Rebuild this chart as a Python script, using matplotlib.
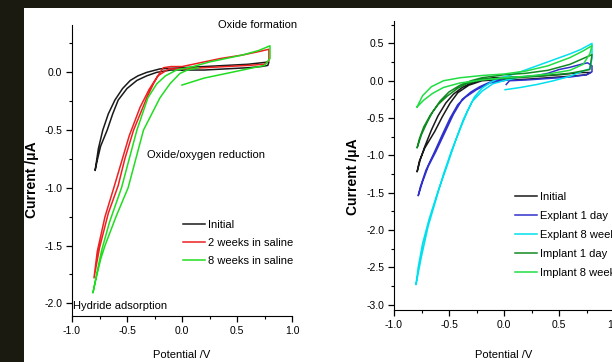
import matplotlib
matplotlib.use("Agg")
import matplotlib.pyplot as plt
from matplotlib.patches import Rectangle
from matplotlib.ticker import MultipleLocator

plt.rcParams['font.family'] = ['Liberation Sans Narrow', 'Liberation Sans', 'DejaVu Sans']
plt.rcParams['axes.unicode_minus'] = False

# ---- left panel: saline soak ----
E_init_l = [0.0, 0.2, 0.4, 0.6, 0.72, 0.78, 0.79, 0.6, 0.4, 0.2, 0.0, -0.2,
            -0.32, -0.40, -0.47, -0.54, -0.61, -0.67, -0.72, -0.76, -0.79,
            -0.77, -0.74, -0.68, -0.63, -0.58, -0.50, -0.41, -0.32, -0.23, -0.1, 0.0]
I_init_l = [0.02, 0.02, 0.03, 0.04, 0.05, 0.06, 0.09, 0.07, 0.06, 0.05, 0.04, 0.03,
            0.0, -0.03, -0.07, -0.14, -0.24, -0.36, -0.50, -0.66, -0.85,
            -0.76, -0.64, -0.50, -0.36, -0.24, -0.14, -0.07, -0.03, 0.0, 0.02, 0.02]

E_2wk = [0.0, 0.2, 0.4, 0.6, 0.75, 0.79, 0.79, 0.7, 0.55, 0.35, 0.15, 0.0, -0.1, -0.17,
         -0.20, -0.26, -0.32, -0.44, -0.52, -0.58, -0.67, -0.75, -0.80,
         -0.77, -0.70, -0.62, -0.48, -0.38, -0.30, -0.22, -0.12, 0.0]
I_2wk = [0.03, 0.04, 0.05, 0.06, 0.07, 0.10, 0.20, 0.18, 0.15, 0.12, 0.08, 0.05, 0.05, 0.04,
         0.0, -0.10, -0.22, -0.50, -0.75, -0.98, -1.22, -1.52, -1.78,
         -1.55, -1.25, -1.00, -0.55, -0.30, -0.15, -0.03, 0.03, 0.03]

E_8wk = [0.0, 0.1, 0.2, 0.35, 0.5, 0.65, 0.75, 0.80, 0.80, 0.7, 0.55, 0.4, 0.25, 0.1,
         -0.05, -0.15, -0.23, -0.31, -0.41, -0.48, -0.55, -0.66, -0.73, -0.77, -0.81,
         -0.78, -0.74, -0.70, -0.60, -0.49, -0.42, -0.35, -0.20, -0.11, -0.02, 0.05, 0.15]
I_8wk = [-0.11, -0.08, -0.05, -0.02, 0.01, 0.04, 0.06, 0.12, 0.23, 0.19, 0.15, 0.12, 0.09, 0.05,
         0.02, -0.03, -0.10, -0.22, -0.50, -0.75, -1.00, -1.30, -1.54, -1.72, -1.91,
         -1.78, -1.62, -1.50, -1.25, -1.00, -0.75, -0.50, -0.22, -0.10, -0.01, 0.02, 0.04]

# ---- right panel: explant / implant ----
E_init_r = [0.0, 0.2, 0.4, 0.6, 0.75, 0.79, 0.7, 0.5, 0.3, 0.1, -0.1, -0.22, -0.30, -0.38,
            -0.46, -0.53, -0.60, -0.66, -0.72, -0.76, -0.79, -0.77, -0.72, -0.63, -0.56,
            -0.49, -0.42, -0.32, -0.2, -0.1, 0.0]
I_init_r = [0.01, 0.02, 0.04, 0.06, 0.08, 0.11, 0.11, 0.08, 0.06, 0.05, 0.04, 0.01, -0.03, -0.09,
            -0.18, -0.30, -0.47, -0.66, -0.88, -1.05, -1.22, -1.08, -0.90, -0.68, -0.48,
            -0.30, -0.16, -0.06, 0.0, 0.01, 0.01]

E_ex1 = [0.02, 0.05, 0.2, 0.4, 0.6, 0.75, 0.80, 0.80, 0.76, 0.70, 0.6, 0.5, 0.4, 0.3, 0.15, 0.0,
         -0.13, -0.22, -0.30, -0.38, -0.46, -0.54, -0.62, -0.69, -0.74, -0.78,
         -0.76, -0.71, -0.64, -0.56, -0.49, -0.42, -0.35, -0.25, -0.13, 0.03]
I_ex1 = [-0.05, 0.0, 0.01, 0.03, 0.05, 0.08, 0.12, 0.20, 0.24, 0.22, 0.18, 0.15, 0.10, 0.07, 0.05, 0.03,
         -0.02, -0.08, -0.15, -0.25, -0.45, -0.70, -0.95, -1.15, -1.35, -1.54,
         -1.42, -1.20, -0.98, -0.72, -0.50, -0.32, -0.22, -0.12, -0.03, 0.01]

E_ex8 = [0.01, 0.15, 0.3, 0.45, 0.6, 0.7, 0.78, 0.80, 0.80, 0.7, 0.6, 0.45, 0.3, 0.15, 0.05,
         -0.05, -0.12, -0.20, -0.27, -0.33, -0.40, -0.48, -0.55, -0.62, -0.69, -0.75, -0.80,
         -0.78, -0.74, -0.68, -0.60, -0.52, -0.44, -0.37, -0.29, -0.20, -0.10, 0.02, 0.1]
I_ex8 = [-0.12, -0.09, -0.05, 0.0, 0.06, 0.12, 0.16, 0.30, 0.50, 0.42, 0.36, 0.28, 0.20, 0.12, 0.07,
         0.03, -0.02, -0.10, -0.22, -0.40, -0.65, -0.95, -1.25, -1.60, -1.95, -2.35, -2.73,
         -2.50, -2.18, -1.85, -1.48, -1.15, -0.80, -0.52, -0.28, -0.14, -0.04, 0.01, 0.03]

E_im1 = [0.0, 0.3, 0.6, 0.78, 0.80, 0.6, 0.4, 0.2, 0.0, -0.2, -0.3, -0.4, -0.5, -0.58, -0.65,
         -0.70, -0.75, -0.79, -0.77, -0.73, -0.67, -0.60, -0.52, -0.42, -0.34, -0.2, 0.0]
I_im1 = [0.03, 0.06, 0.10, 0.15, 0.35, 0.22, 0.14, 0.10, 0.08, 0.04, 0.0, -0.06, -0.15, -0.27, -0.42,
         -0.56, -0.72, -0.90, -0.78, -0.62, -0.46, -0.32, -0.21, -0.10, -0.04, 0.02, 0.03]

E_im8 = [-0.79, -0.74, -0.66, -0.55, -0.4, -0.2, 0.0, 0.2, 0.4, 0.6, 0.72, 0.80,
         0.78, 0.72, 0.6, 0.4, 0.2, 0.0, -0.2, -0.4, -0.55, -0.65, -0.73, -0.79]
I_im8 = [-0.35, -0.20, -0.08, 0.0, 0.04, 0.07, 0.09, 0.13, 0.20, 0.31, 0.40, 0.47,
         0.36, 0.22, 0.14, 0.09, 0.06, 0.04, 0.01, -0.03, -0.09, -0.17, -0.26, -0.35]

fs = 7.5

fig = plt.figure(figsize=(6.12, 3.62), dpi=100, facecolor='#1b1a10')
# white card over the dark frame
fig.patches.append(Rectangle((24 / 612, 0), 1, 1 - 8 / 362, transform=fig.transFigure,
                             facecolor='white', edgecolor='none', zorder=-10))

ax1 = fig.add_axes([72 / 612, 46 / 362, 220 / 612, 291 / 362])
ax2 = fig.add_axes([394 / 612, 52 / 362, 220 / 612, 289 / 362])
ax1.set_zorder(5)
ax2.set_zorder(5)

lw = 1.1
ax1.plot(E_init_l, I_init_l, color='#1a1a1a', lw=lw, label='Initial')
ax1.plot(E_2wk, I_2wk, color='#ee2020', lw=lw, label='2 weeks in saline')
ax1.plot(E_8wk, I_8wk, color='#20dd20', lw=lw, label='8 weeks in saline')

ax2.plot(E_init_r, I_init_r, color='#1a1a1a', lw=lw, label='Initial')
ax2.plot(E_ex1, I_ex1, color='#3030cc', lw=lw, label='Explant 1 day')
ax2.plot(E_ex8, I_ex8, color='#00e0ee', lw=lw, label='Explant 8 weeks')
ax2.plot(E_im1, I_im1, color='#118a22', lw=lw, label='Implant 1 day')
ax2.plot(E_im8, I_im8, color='#22dd44', lw=lw, label='Implant 8 weeks')

ax1.set_ylim(-2.11, 0.41)
ax2.set_ylim(-3.07, 0.80)

for ax in (ax1, ax2):
    ax.set_xlim(-1.0, 1.0)
    ax.set_facecolor('none')
    ax.spines['top'].set_visible(False)
    ax.spines['right'].set_visible(False)
    ax.xaxis.set_major_locator(MultipleLocator(0.5))
    ax.xaxis.set_minor_locator(MultipleLocator(0.25))
    ax.yaxis.set_major_locator(MultipleLocator(0.5))
    ax.yaxis.set_minor_locator(MultipleLocator(0.25))
    ax.tick_params(which='major', direction='out', length=4, width=0.9, labelsize=fs, pad=3)
    ax.tick_params(which='minor', direction='out', length=2.5, width=0.8)
    ax.set_xlabel('Potential /V', fontsize=fs + 0.5)
    ax.set_ylabel('Current /\u03bcA', fontsize=10, fontweight='bold',
                  family=['Liberation Sans', 'DejaVu Sans'])

ax1.xaxis.set_label_coords(0.5, -0.117)
ax2.xaxis.set_label_coords(0.5, -0.138)
ax1.yaxis.set_label_coords(-0.15, 0.47)
ax2.yaxis.set_label_coords(-0.155, 0.46)

ax1.text(0.327, 0.41, 'Oxide formation', fontsize=fs + 0.5, va='center')
ax1.text(-0.32, -0.72, 'Oxide/oxygen reduction', fontsize=fs + 0.5, va='center')
ax1.text(-0.99, -2.02, 'Hydride adsorption', fontsize=fs + 0.5, va='center')

ax1.legend(loc='upper left', bbox_to_anchor=(183 / 612, 1 - 220 / 362),
           bbox_transform=fig.transFigure, frameon=False, fontsize=fs + 0.5,
           borderpad=0, borderaxespad=0, handlelength=2.0, handletextpad=0.25,
           labelspacing=0.72)
ax2.legend(loc='upper left', bbox_to_anchor=(515 / 612, 1 - 192 / 362),
           bbox_transform=fig.transFigure, frameon=False, fontsize=fs + 0.5,
           borderpad=0, borderaxespad=0, handlelength=2.0, handletextpad=0.25,
           labelspacing=0.8)

fig.savefig('out.png', dpi=100, facecolor=fig.get_facecolor())
